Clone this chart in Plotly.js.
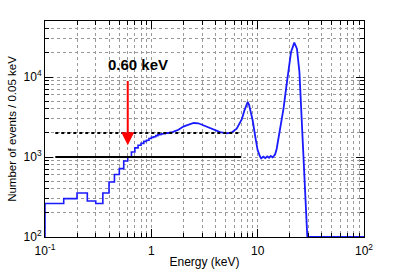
<!DOCTYPE html>
<html><head><meta charset="utf-8">
<script src="https://cdn.plot.ly/plotly-3.0.1.min.js"></script>
<style>html,body{margin:0;padding:0;background:#fff}#c{width:399px;height:270px}</style>
</head><body><div id="c"></div>
<script>
// Low-energy histogram: bin left edges (keV) and counts per 0.05 keV
var lowEdges = [0.10,0.15,0.20,0.25,0.30,0.35,0.40,0.45,0.50,0.55,0.60,0.65,0.70,0.75,0.80,0.85,0.90,0.95,1.00,1.05,1.10,1.15,1.20,1.25,1.30,1.35,1.40,1.45,1.50,1.55];
var lowCounts = [262,302,355,282,262,355,487,603,716,891,1000,1155,1300,1400,1480,1570,1620,1700,1760,1790,1850,1900,1920,1950,1960,2000,1990,2010,2030,2050];
// Higher-energy spectrum (bins too fine to resolve; sampled along curve)
var highE = [1.55,1.6,1.8,2.0,2.15,2.5,2.77,3.0,3.32,3.84,4.43,5.12,5.7,6.35,6.8,7.08,7.5,7.9,8.05,8.3,8.97,9.5,10.0,10.5,10.8,11.3,11.8,12.3,12.8,13.3,13.8,14.3,14.6,15.1,16.3,17.5,18.5,19.5,20.6,22.1,23.4,24.7,25.4,26.9,27.7,29.3,100];
var highCounts = [2050,2060,2190,2400,2490,2660,2640,2530,2370,2190,2050,1980,2030,2265,2650,2950,3800,4600,4870,4500,2880,1780,1210,1020,960,1010,970,1020,980,1030,990,1040,1080,1270,2270,4030,7160,11600,20500,26900,22600,11600,5370,1270,485,100,100];
// Reference levels
var levelRangeE = [0.125, 7];
var solidLevel = 1000;
var dottedLevel = 2000;
// Threshold marker
var thresholdE = 0.60;
var thresholdLabel = "0.60 keV";
var arrowTop = 9300, arrowTip = 1400;
var xTickVals = [0.1,1,10,100];
var xTickText = ['10<sup>-1</sup>','1','10','10<sup>2</sup>'];
var yTickVals = [100,1000,10000];
var yTickText = ['10<sup>2</sup>','10<sup>3</sup>','10<sup>4</sup>'];

var blue = '#1a1aff';
var font = 'Liberation Sans, Arial, sans-serif';
var traces = [
  {x:[lowEdges[0]].concat(lowEdges), y:[100].concat(lowCounts), mode:'lines', line:{shape:'hv', color:blue, width:1.6}, hoverinfo:'skip'},
  {x:highE, y:highCounts, mode:'lines', line:{shape:'linear', color:blue, width:1.8}, hoverinfo:'skip'},
  {x:levelRangeE, y:[solidLevel,solidLevel], mode:'lines', line:{color:'#000', width:2}, hoverinfo:'skip'},
  {x:levelRangeE, y:[dottedLevel,dottedLevel], mode:'lines', line:{color:'#000', width:2, dash:'dot'}, hoverinfo:'skip'}
];
var gridc = '#999999';
var axBase = {type:'log', showline:true, linecolor:'#000', linewidth:1, mirror:'allticks', ticks:'inside', ticklen:8, tickcolor:'#000',
  showgrid:true, gridcolor:gridc, griddash:'dot', gridwidth:1, zeroline:false, tickmode:'array',
  tickfont:{family:font, size:12, color:'#000'},
  minor:{dtick:'D1', ticks:'inside', ticklen:4, tickcolor:'#000', showgrid:true, gridcolor:gridc, griddash:'dot', gridwidth:1}};
var layout = {
  width:399, height:270, margin:{l:45, r:35, t:21, b:33}, paper_bgcolor:'#fff', plot_bgcolor:'#fff', showlegend:false,
  xaxis:Object.assign({}, axBase, {range:[-1,2], tickvals:xTickVals, ticktext:xTickText, ticklabelstandoff:3,
    title:{text:'Energy (keV)', font:{family:font, size:12, color:'#000'}, standoff:0}}),
  yaxis:Object.assign({}, axBase, {range:[2,4.7], tickvals:yTickVals, ticktext:yTickText,
    title:{text:'Number of events / 0.05 keV', font:{family:font, size:11.5, color:'#000'}, standoff:4}}),
  annotations:[
    {x:Math.log10(thresholdE), y:Math.log10(arrowTip), ax:Math.log10(thresholdE), ay:Math.log10(arrowTop), xref:'x', yref:'y', axref:'x', ayref:'y',
     text:'', showarrow:true, arrowhead:2, arrowsize:1.3, arrowwidth:2, arrowcolor:'#ff0000'},
    {x:Math.log10(0.75), y:Math.log10(14500), xref:'x', yref:'y', text:'<b>'+thresholdLabel+'</b>', showarrow:false,
     font:{family:font, size:15, color:'#000'}}
  ]
};
Plotly.newPlot('c', traces, layout, {staticPlot:true, displayModeBar:false});
</script></body></html>
